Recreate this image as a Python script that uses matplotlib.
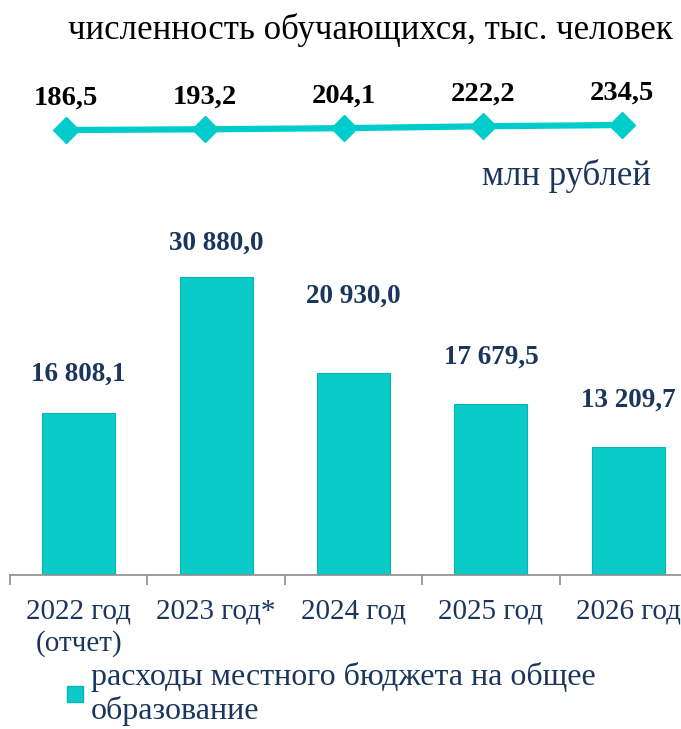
import numpy as np
import matplotlib.pyplot as plt
from matplotlib.lines import Line2D

plt.rcParams['font.family'] = ['Liberation Serif', 'DejaVu Serif']

# данные
years = ['2022 год\n(отчет)', '2023 год*', '2024 год', '2025 год', '2026 год']
spending = [16808.1, 30880.0, 20930.0, 17679.5, 13209.7]
spending_labels = ['16 808,1', '30 880,0', '20 930,0', '17 679,5', '13 209,7']
students = [186.5, 193.2, 204.1, 222.2, 234.5]
students_labels = ['186,5', '193,2', '204,1', '222,2', '234,5']

# подписи столбцов ставим вручную (в пикселях над столбцом)
label_offsets = [38, 34, 77, 47, 47]

teal = '#0ACBC8'
navy = '#1B365D'
W, H = 681, 729

fig = plt.figure(figsize=(W / 100, H / 100), dpi=100)

def px_axes(left, top, right, bottom):
    return fig.add_axes([left / W, 1 - bottom / H, (right - left) / W, (bottom - top) / H])

# столбцы
ax = px_axes(10, 200, 697, 575)
x = np.arange(len(years))
ax.bar(x, spending, width=0.53, color=teal, edgecolor='#08B5B1', linewidth=0.8)
ax.set_xlim(-0.5, len(years) - 0.5)
ax.set_ylim(0, 38820)
for s in ['top', 'right', 'left']:
    ax.spines[s].set_visible(False)
ax.spines['bottom'].set_color('#8C8C8C')
ax.spines['bottom'].set_linewidth(1.2)
ax.set_yticks([])
ax.set_xticks(x)
ax.set_xticklabels(years, fontsize=21, color=navy, linespacing=1.25)
ax.tick_params(axis='x', which='major', length=0, pad=17)
ax.set_xticks(np.arange(len(years) + 1) - 0.5, minor=True)
ax.tick_params(axis='x', which='minor', length=7, color='#8C8C8C', width=1.2)

for i, (v, lab) in enumerate(zip(spending, spending_labels)):
    ax.annotate(lab, (i, v), xytext=(0, label_offsets[i]), textcoords='offset pixels',
                ha='center', va='center', fontsize=19.5, fontweight='bold', color=navy)

# линия численности
lx = px_axes(-3.5, 100, 691.5, 160)
lx.plot(np.arange(len(students)), students, color='#00CCCC', lw=4.5,
        marker='D', markersize=13, solid_capstyle='butt')
lx.set_xlim(-0.5, len(students) - 0.5)
lx.set_ylim(-101.5, 474.5)
lx.axis('off')
for i, (v, lab) in enumerate(zip(students, students_labels)):
    lx.annotate(lab, (i, v), xytext=(0, 32), textcoords='offset pixels',
                ha='center', va='center', fontsize=20.5, fontweight='bold', color='black')

fig.text(370 / W, 1 - 30 / H, 'численность обучающихся, тыс. человек',
         ha='center', va='center', fontsize=25, color='black')
fig.text(566 / W, 1 - 176 / H, 'млн рублей',
         ha='center', va='center', fontsize=25, color=navy)

handle = Line2D([], [], marker='s', linestyle='none', markersize=11,
                markerfacecolor=teal, markeredgecolor='#08B5B1')
fig.legend([handle], ['расходы местного бюджета на общее\nобразование'],
           loc='upper left', bbox_to_anchor=(62 / W, 1 - 662 / H), frameon=False,
           labelcolor=navy, handletextpad=0.1, handlelength=0.8,
           borderaxespad=0, borderpad=0, prop={'size': 23},
           columnspacing=0, labelspacing=0)
plt.setp(fig.legends[0].get_texts(), linespacing=1.18)

fig.savefig('out.png', dpi=100)
